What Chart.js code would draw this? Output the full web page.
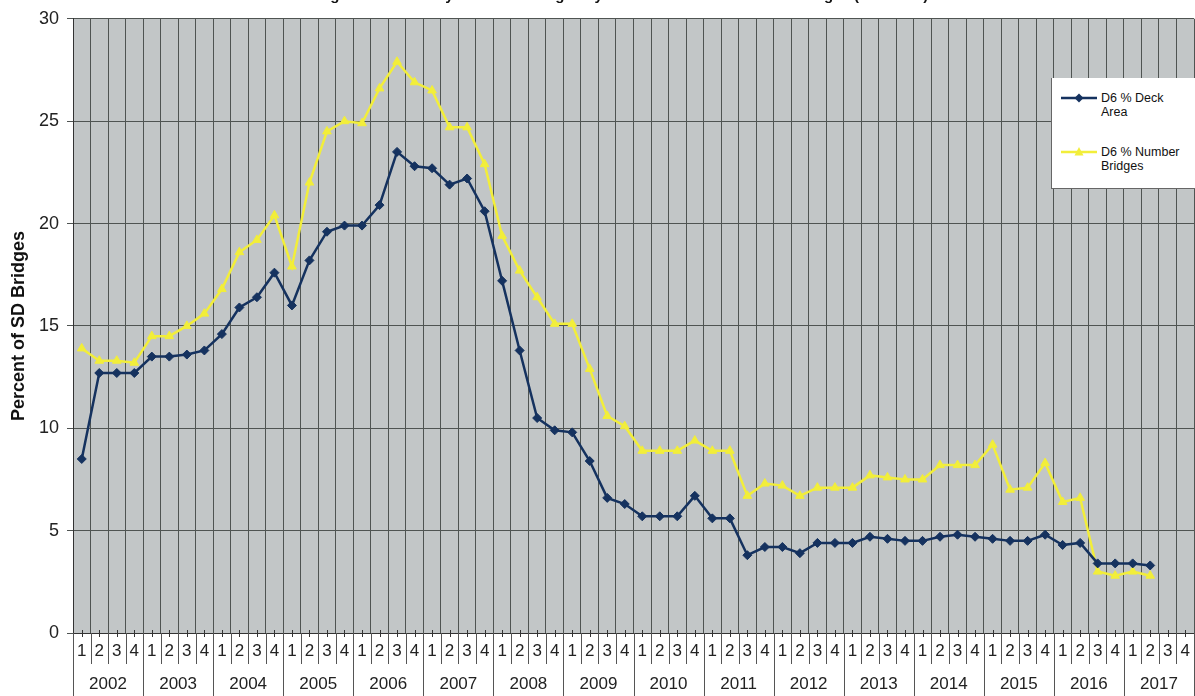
<!DOCTYPE html>
<html>
<head>
<meta charset="utf-8">
<script src="https://cdn.jsdelivr.net/npm/chart.js@4"></script>
<style>
  html, body { margin: 0; padding: 0; background: #ffffff; overflow: hidden; width: 1195px; height: 696px; }
  #wrap { position: relative; width: 1195px; height: 696px; overflow: hidden; }
  #c { position: absolute; left: 0; top: 0; }
  #title { position: absolute; left: 0; width: 1195px; top: -14px; text-align: center;
           font: bold 15px "Liberation Sans", Arial, sans-serif; color: #111; white-space: nowrap; }
  #legend { position: absolute; left: 1051px; top: 78px; width: 150px; height: 110px; background: #ffffff;
            border-left: 1px solid #666; border-bottom: 1px solid #666;
            font: 12.5px "Liberation Sans", Arial, sans-serif; color: #111; }
  .item { position: absolute; left: 8px; display: flex; align-items: flex-start; }
  .item svg { flex: none; margin-top: 0px; }
  .item span { margin-left: 3px; line-height: 14px; }
</style>
</head>
<body>
<div id="wrap">
  <canvas id="c" width="1200" height="696"></canvas>
  <div id="title">Percentage of Structurally Deficient Bridges by Deck Area and Number of Bridges (District 6)</div>
  <div id="legend">
    <div class="item" style="top:13px">
      <svg width="38" height="14"><line x1="1" y1="7" x2="37" y2="7" stroke="#15325f" stroke-width="2.5"/><polygon points="19,2.5 23.5,7 19,11.5 14.5,7" fill="#15325f"/></svg>
      <span>D6 % Deck<br>Area</span>
    </div>
    <div class="item" style="top:67px">
      <svg width="38" height="14"><line x1="1" y1="7" x2="37" y2="7" stroke="#f2ee3a" stroke-width="2.5"/><polygon points="19,2 23.5,10.5 14.5,10.5" fill="#f2ee3a"/></svg>
      <span>D6 % Number<br>Bridges</span>
    </div>
  </div>
</div>
<script>
// ---- data ----
const years = ['2002','2003','2004','2005','2006','2007','2008','2009','2010','2011','2012','2013','2014','2015','2016','2017'];
const quarterLabels = ['1','2','3','4'];
const categories = years.flatMap(y => quarterLabels.map(q => y + ' Q' + q));

const deckArea = [
  8.5, 12.7, 12.7, 12.7,
  13.5, 13.5, 13.6, 13.8,
  14.6, 15.9, 16.4, 17.6,
  16.0, 18.2, 19.6, 19.9,
  19.9, 20.9, 23.5, 22.8,
  22.7, 21.9, 22.2, 20.6,
  17.2, 13.8, 10.5, 9.9,
  9.8, 8.4, 6.6, 6.3,
  5.7, 5.7, 5.7, 6.7,
  5.6, 5.6, 3.8, 4.2,
  4.2, 3.9, 4.4, 4.4,
  4.4, 4.7, 4.6, 4.5,
  4.5, 4.7, 4.8, 4.7,
  4.6, 4.5, 4.5, 4.8,
  4.3, 4.4, 3.4, 3.4,
  3.4, 3.3
];
const numberBridges = [
  13.9, 13.3, 13.3, 13.2,
  14.5, 14.5, 15.0, 15.6,
  16.8, 18.6, 19.2, 20.4,
  17.9, 22.0, 24.5, 25.0,
  24.9, 26.6, 27.9, 26.9,
  26.5, 24.7, 24.7, 22.9,
  19.4, 17.7, 16.4, 15.1,
  15.1, 12.9, 10.6, 10.1,
  8.9, 8.9, 8.9, 9.4,
  8.9, 8.9, 6.7, 7.3,
  7.2, 6.7, 7.1, 7.1,
  7.1, 7.7, 7.6, 7.5,
  7.5, 8.2, 8.2, 8.2,
  9.2, 7.0, 7.1, 8.3,
  6.4, 6.6, 3.0, 2.8,
  3.0, 2.8
];
const yTicks = [0, 5, 10, 15, 20, 25, 30];

const FONT = '"Liberation Sans", Arial, sans-serif';

const decor = {
  id: 'decor',
  beforeDraw(chart) {
    const a = chart.chartArea, ctx = chart.ctx;
    ctx.save();
    ctx.fillStyle = '#c2c6c7';
    ctx.fillRect(a.left, a.top, a.right - a.left, a.bottom - a.top);
    ctx.restore();
  },
  afterDraw(chart) {
    const ctx = chart.ctx, xs = chart.scales.x, a = chart.chartArea;
    const w = xs.getPixelForValue(1) - xs.getPixelForValue(0);
    ctx.save();
    ctx.strokeStyle = '#555';
    ctx.lineWidth = 1;
    for (let i = 0; i <= categories.length; i++) {
      const x = Math.round(xs.getPixelForValue(i) - w / 2) + 0.5;
      ctx.beginPath();
      ctx.moveTo(x, a.bottom);
      ctx.lineTo(x, i % 4 === 0 ? 696 : 664);
      ctx.stroke();
    }
    ctx.strokeStyle = '#333';
    for (let i = 0; i < categories.length; i++) {
      const x = Math.round(xs.getPixelForValue(i)) + 0.5;
      ctx.beginPath();
      ctx.moveTo(x, a.bottom - 3);
      ctx.lineTo(x, a.bottom + 4);
      ctx.stroke();
    }
    ctx.fillStyle = '#222';
    ctx.font = '17px ' + FONT;
    ctx.textAlign = 'center';
    ctx.textBaseline = 'middle';
    years.forEach((y, k) => {
      const x = (xs.getPixelForValue(4 * k) + xs.getPixelForValue(4 * k + 3)) / 2;
      ctx.fillText(y, x, 684);
    });
    ctx.restore();
  }
};

new Chart(document.getElementById('c'), {
  type: 'line',
  data: {
    labels: categories,
    datasets: [
      {
        label: 'D6 % Deck Area',
        data: deckArea,
        borderColor: '#15325f',
        backgroundColor: '#15325f',
        borderWidth: 2.5,
        pointStyle: 'rectRot',
        pointRadius: 4.5,
        pointBorderWidth: 1,
        tension: 0
      },
      {
        label: 'D6 % Number Bridges',
        data: numberBridges,
        borderColor: '#f2ee3a',
        backgroundColor: '#f2ee3a',
        borderWidth: 2.5,
        pointStyle: 'triangle',
        pointRadius: 5,
        pointBorderWidth: 1,
        tension: 0
      }
    ]
  },
  options: {
    responsive: false,
    animation: false,
    events: [],
    layout: { padding: { top: 16, right: 1, left: 0, bottom: 0 } },
    plugins: { legend: { display: false }, tooltip: { enabled: false } },
    scales: {
      x: {
        type: 'category',
        offset: true,
        grid: { offset: true, color: '#4f5452', lineWidth: 1, drawTicks: false },
        border: { color: '#333', width: 1 },
        ticks: {
          autoSkip: false, maxRotation: 0, minRotation: 0, padding: 8,
          color: '#222', font: { family: FONT, size: 17 },
          callback: (v, i) => quarterLabels[i % 4]
        },
        afterFit: s => { s.height = 63; }
      },
      y: {
        min: 0, max: 30,
        afterBuildTicks: s => { s.ticks = yTicks.map(v => ({ value: v })); },
        grid: { color: '#4f5452', lineWidth: 1, tickLength: 6 },
        border: { color: '#333', width: 1 },
        ticks: { padding: 8, color: '#222', font: { family: FONT, size: 18 } },
        title: { display: true, text: 'Percent of SD Bridges', color: '#111',
                 font: { family: FONT, size: 18, weight: 'bold' }, padding: { top: 8, bottom: 4 } },
        afterFit: s => { s.width = 73; }
      }
    }
  },
  plugins: [decor]
});
</script>
</body>
</html>
